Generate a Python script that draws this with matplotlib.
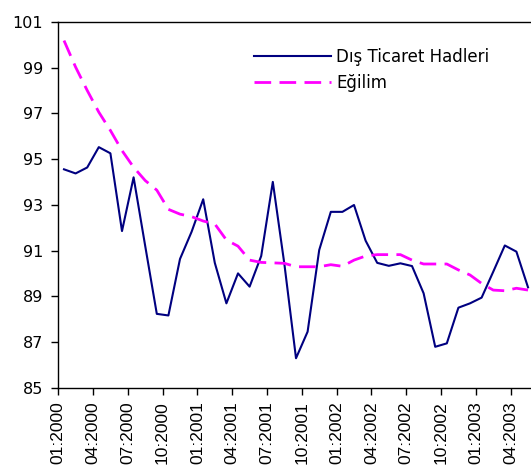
import matplotlib
matplotlib.use("Agg")
import matplotlib.pyplot as plt

# monthly data, 01:2000 .. 05:2003
months = [f"{m:02d}:{y}" for y in range(2000, 2004) for m in range(1, 13)][:41]

dis_ticaret = [
    94.55, 94.37, 94.63, 95.52, 95.25, 91.85, 94.2, 91.2, 88.23, 88.16,
    90.63, 91.82, 93.24, 90.46, 88.69, 90.0, 89.42, 90.76, 94.0, 90.4,
    86.29, 87.45, 91.02, 92.69, 92.69, 92.99, 91.43, 90.46, 90.33, 90.44,
    90.32, 89.13, 86.79, 86.94, 88.5, 88.69, 88.94, 90.07, 91.22, 90.95,
    89.39,
]
egilim = [
    100.18, 99.02, 98.0, 97.05, 96.25, 95.37, 94.64, 94.06, 93.64, 92.8,
    92.59, 92.48, 92.29, 92.16, 91.46, 91.19, 90.58, 90.48, 90.46, 90.44,
    90.29, 90.29, 90.29, 90.38, 90.31, 90.58, 90.76, 90.82, 90.82, 90.82,
    90.58, 90.41, 90.41, 90.41, 90.15, 89.93, 89.56, 89.27, 89.24, 89.35,
    89.27,
]

plt.rcParams["font.family"] = ["DejaVu Sans"]

fig = plt.figure(figsize=(5.31, 4.74), dpi=100)
ax = fig.add_axes([0.1096, 0.182, 0.8957, 0.772])

x = list(range(len(months)))
ax.plot(x, dis_ticaret, color="#000080", linewidth=1.5, label="Dış Ticaret Hadleri")
ax.plot(x, egilim, color="#FF00FF", linewidth=2.0, dashes=(6, 3), label="Eğilim")

ax.set_xlim(-0.5, len(months) - 0.5)
ax.set_ylim(85, 101)
ax.set_yticks(range(85, 102, 2))
tick_pos = [i - 0.5 for i in range(0, len(months), 3)]
ax.set_xticks(tick_pos)
ax.set_xticklabels(months[::3], rotation=90, family="Liberation Sans", fontsize=12.5)
ax.tick_params(axis="both", direction="out", length=5, width=1)
ax.tick_params(axis="y", labelsize=11.5, pad=6)
ax.tick_params(axis="x", pad=5)

ax.spines["right"].set_visible(False)
for side in ("left", "bottom", "top"):
    ax.spines[side].set_linewidth(1.0)

ax.legend(loc="upper left", bbox_to_anchor=(0.381, 0.97), frameon=False,
          fontsize=12, handlelength=4.6, handletextpad=0.3, labelspacing=0.5)

fig.savefig("out.png", dpi=100)
